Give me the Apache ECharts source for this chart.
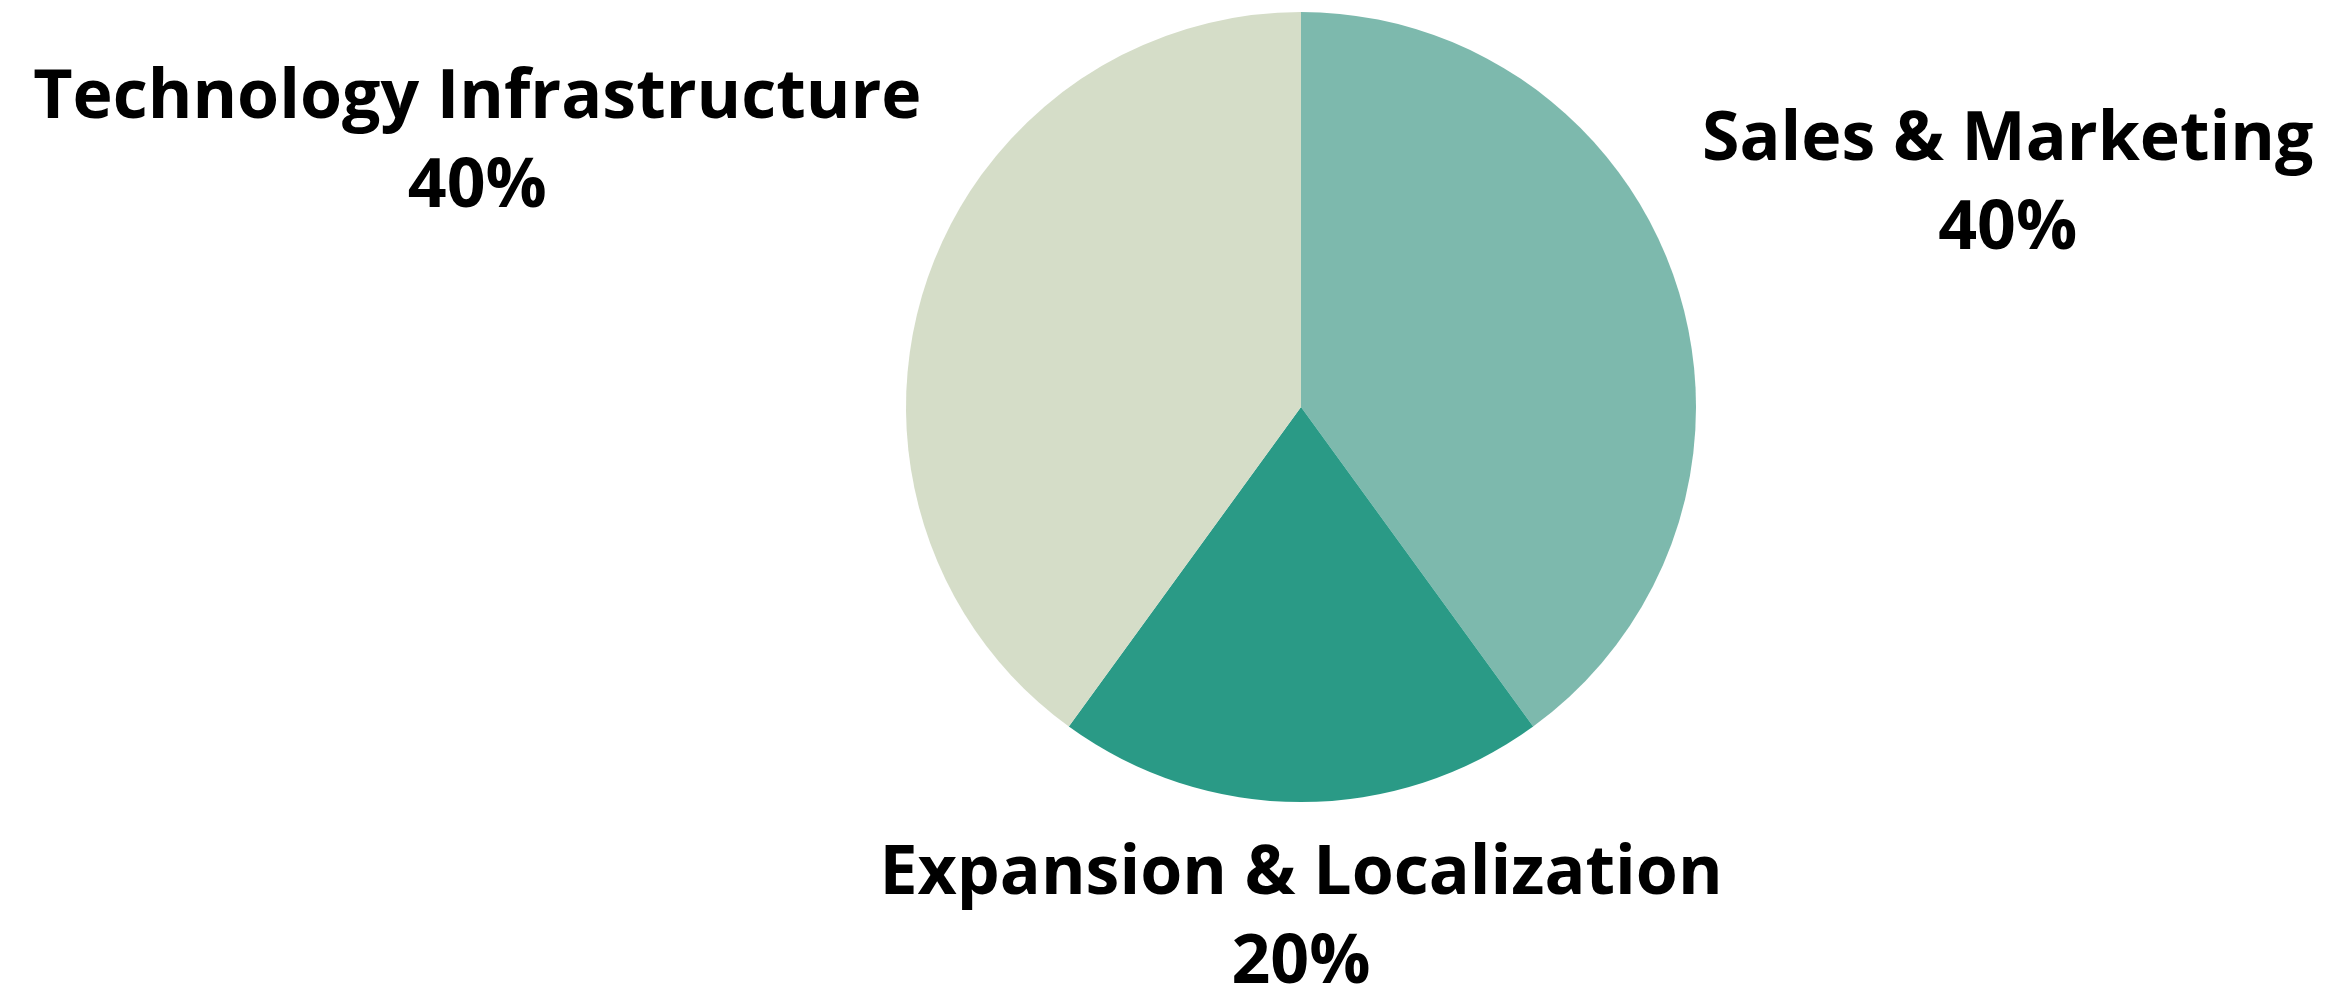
<!DOCTYPE html>
<html>
<head>
<meta charset="utf-8">
<script src="https://cdn.jsdelivr.net/npm/echarts@6/dist/echarts.min.js"></script>
<style>
html,body{margin:0;padding:0;background:#ffffff;}
#chart{width:2328px;height:988px;}
</style>
</head>
<body>
<div id="chart"></div>
<script>
// ---- data ----
const categories = ['Sales & Marketing', 'Expansion & Localization', 'Technology Infrastructure'];
const shares = [40, 20, 40];
const sliceColors = ['#7db9ad', '#2a9a86', '#d5ddc8'];

const chart = echarts.init(document.getElementById('chart'), null, { renderer: 'canvas' });

// label block centre, offset from the slice's outer mid-point (px)
const labelShift = [[331, -100], [0, 117], [-448, -142]];

function sliceLayout(idx) {
  try {
    return chart.getModel().getSeriesByIndex(0).getData().getItemLayout(idx);
  } catch (e) { return null; }
}

const option = {
  backgroundColor: '#ffffff',
  animation: false,
  series: [{
    type: 'pie',
    center: [1301, 407],
    radius: 395,
    startAngle: 90,
    clockwise: true,
    avoidLabelOverlap: false,
    data: categories.map((c, i) => ({ name: c, value: shares[i], itemStyle: { color: sliceColors[i] } })),
    itemStyle: { borderWidth: 0 },
    label: {
      show: true,
      position: 'outside',
      formatter: p => p.name + '\n' + p.percent + '%',
      fontFamily: 'Open Sans',
      fontWeight: 'bold',
      fontSize: 68,
      lineHeight: 89,
      color: '#000000',
      align: 'center'
    },
    labelLine: { show: false },
    labelLayout: function (params) {
      const l = sliceLayout(params.dataIndex);
      if (!l) return {};
      const mid = (l.startAngle + l.endAngle) / 2;
      const px = l.cx + l.r * Math.cos(mid);
      const py = l.cy + l.r * Math.sin(mid);
      const s = labelShift[params.dataIndex];
      return { x: px + s[0], y: py + s[1], align: 'center', verticalAlign: 'middle' };
    }
  }]
};
chart.setOption(option);
</script>
</body>
</html>
